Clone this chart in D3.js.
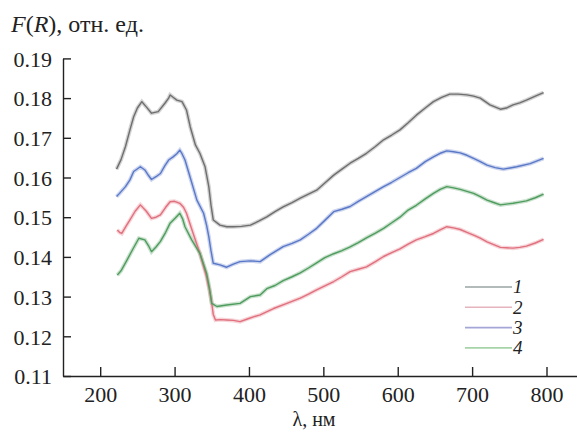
<!DOCTYPE html>
<html>
<head>
<meta charset="utf-8">
<script src="https://cdn.jsdelivr.net/npm/d3@7"></script>
<style>
  body { margin: 0; background: #fff; }
  svg text { font-family: "Liberation Serif", "DejaVu Serif", serif; fill: #222; }
</style>
</head>
<body>
<div id="chart"></div>
<script>
// spectra: [wavelength nm, F(R)]
const curve1 = [[222,0.1621],[228,0.1645],[234,0.1678],[240,0.1720],[245,0.1753],[250,0.1775],[256,0.1791],[262,0.1778],[269,0.1762],[278,0.1766],[287,0.1787],[292,0.1800],[294,0.1808],[298,0.1802],[303,0.1795],[310,0.1791],[316,0.1770],[321,0.1728],[328,0.1682],[334,0.1661],[341,0.1627],[346,0.1577],[349,0.1530],[352,0.1493],[361,0.1480],[370,0.1476],[379,0.1476],[390,0.1477],[402,0.1480],[413,0.1490],[424,0.1501],[435,0.1514],[446,0.1526],[458,0.1537],[469,0.1548],[480,0.1558],[491,0.1568],[502,0.1586],[514,0.1606],[525,0.1621],[536,0.1636],[547,0.1648],[558,0.1661],[570,0.1678],[581,0.1695],[592,0.1707],[603,0.1720],[614,0.1738],[625,0.1757],[637,0.1775],[648,0.1791],[659,0.1802],[670,0.1810],[681,0.1810],[693,0.1808],[702,0.1805],[711,0.1800],[724,0.1783],[738,0.1772],[746,0.1775],[755,0.1783],[764,0.1788],[773,0.1795],[785,0.1805],[796,0.1814]];

const curve2 = [[223,0.1468],[226,0.1462],[229,0.1459],[234,0.1475],[240,0.1493],[247,0.1515],[254,0.1531],[262,0.1515],[269,0.1497],[275,0.1500],[281,0.1506],[288,0.1525],[294,0.1539],[300,0.1540],[307,0.1535],[312,0.1525],[316,0.1510],[325,0.1459],[334,0.1409],[343,0.1350],[347,0.1315],[350,0.1283],[352,0.1255],[355,0.1241],[362,0.1242],[370,0.1241],[379,0.1240],[388,0.1237],[397,0.1243],[406,0.1249],[415,0.1254],[433,0.1270],[451,0.1283],[469,0.1296],[480,0.1306],[491,0.1317],[502,0.1327],[514,0.1338],[525,0.1350],[536,0.1363],[547,0.1369],[558,0.1375],[570,0.1388],[581,0.1401],[592,0.1411],[603,0.1420],[614,0.1432],[625,0.1443],[637,0.1451],[648,0.1459],[657,0.1468],[666,0.1476],[675,0.1473],[684,0.1469],[693,0.1462],[702,0.1455],[711,0.1447],[720,0.1438],[729,0.1431],[738,0.1424],[746,0.1423],[755,0.1422],[764,0.1424],[773,0.1427],[785,0.1435],[796,0.1444]];

const curve3 = [[222,0.1552],[226,0.1560],[234,0.1577],[240,0.1594],[245,0.1615],[254,0.1627],[260,0.1619],[265,0.1605],[269,0.1595],[275,0.1602],[281,0.1610],[287,0.1630],[292,0.1644],[298,0.1652],[303,0.1660],[307,0.1669],[310,0.1660],[314,0.1644],[321,0.1600],[330,0.1543],[339,0.1510],[343,0.1480],[346,0.1451],[349,0.1415],[352,0.1384],[361,0.1380],[370,0.1374],[379,0.1382],[388,0.1388],[402,0.1390],[415,0.1388],[428,0.1405],[446,0.1426],[458,0.1434],[469,0.1443],[480,0.1457],[491,0.1472],[502,0.1492],[514,0.1514],[525,0.1520],[536,0.1527],[547,0.1540],[558,0.1552],[570,0.1565],[581,0.1577],[592,0.1588],[603,0.1600],[614,0.1612],[625,0.1623],[637,0.1640],[648,0.1652],[657,0.1661],[666,0.1667],[675,0.1665],[684,0.1662],[693,0.1656],[702,0.1648],[711,0.1640],[720,0.1631],[731,0.1625],[742,0.1621],[751,0.1624],[760,0.1627],[778,0.1635],[796,0.1648]];

const curve4 = [[223,0.1354],[228,0.1365],[236,0.1392],[244,0.1420],[252,0.1447],[260,0.1443],[265,0.1428],[269,0.1413],[275,0.1425],[281,0.1439],[288,0.1462],[294,0.1485],[301,0.1498],[307,0.1510],[311,0.1495],[314,0.1476],[323,0.1443],[334,0.1409],[343,0.1359],[347,0.1320],[350,0.1283],[357,0.1275],[370,0.1279],[388,0.1283],[402,0.1300],[415,0.1304],[424,0.1320],[435,0.1328],[446,0.1340],[458,0.1350],[469,0.1360],[480,0.1372],[491,0.1385],[502,0.1398],[514,0.1408],[525,0.1416],[536,0.1425],[547,0.1436],[558,0.1448],[570,0.1460],[581,0.1472],[592,0.1486],[603,0.1500],[614,0.1518],[625,0.1530],[637,0.1546],[648,0.1560],[657,0.1570],[666,0.1577],[675,0.1574],[684,0.1570],[693,0.1565],[702,0.1560],[711,0.1552],[720,0.1543],[729,0.1537],[738,0.1531],[746,0.1533],[755,0.1535],[764,0.1538],[773,0.1541],[785,0.1549],[796,0.1558]];

const seriesNames = ["1", "2", "3", "4"];
const xTicks = [200, 300, 400, 500, 600, 700, 800];
const yTicks = [0.11, 0.12, 0.13, 0.14, 0.15, 0.16, 0.17, 0.18, 0.19];

const width = 577, height = 432;
const serif = "'Liberation Serif', 'DejaVu Serif', serif";
const colors = ["#6e6e6e", "#e0707e", "#5a78c8", "#4e9c5e"];
const legendColors = ["#9aa3a3", "#e6b4bc", "#a4a6d8", "#a6d4a8"];

let svg = d3.select("#chart").append("svg")
    .attr("width", width)
    .attr("height", height);

let x = d3.scaleLinear().domain([150, 841]).range([63, 577]);
let y = d3.scaleLinear().domain([0.11, 0.19]).range([376, 58.4]);

let line = d3.line()
    .x(function(d) { return x(d[0]); })
    .y(function(d) { return y(d[1]); });

let data = [curve1, curve2, curve3, curve4];

// soft halo first, then the core line
data.forEach(function(c, i) {
    svg.append("path")
        .attr("d", line(c))
        .attr("fill", "none")
        .attr("stroke", colors[i])
        .attr("stroke-opacity", 0.3)
        .attr("stroke-width", 4);
});
data.forEach(function(c, i) {
    svg.append("path")
        .attr("d", line(c))
        .attr("fill", "none")
        .attr("stroke", colors[i])
        .attr("stroke-width", 1.4)
        .attr("stroke-linejoin", "round");
});

// axes, ticks pointing inwards
let xAxis = svg.append("g")
    .attr("transform", "translate(0,376)")
    .call(d3.axisBottom(x).tickValues(xTicks).tickSizeInner(-9).tickSizeOuter(0).tickPadding(10));

let yAxis = svg.append("g")
    .attr("transform", "translate(63,0)")
    .call(d3.axisLeft(y).tickValues(yTicks).tickFormat(d3.format(".2f")).tickSizeInner(-8).tickSizeOuter(0).tickPadding(11));

[xAxis, yAxis].forEach(function(a) {
    a.attr("font-family", null);
    a.selectAll("path, line").attr("stroke", "#222").attr("stroke-width", 1.4);
    a.selectAll("text")
        .style("font-family", serif)
        .style("font-size", "22px")
        .attr("fill", "#222");
});
yAxis.selectAll("text").attr("dy", "0.35em");
xAxis.selectAll("text").attr("dy", "0.71em");

// titles
let title = svg.append("text")
    .attr("x", 11)
    .attr("y", 32)
    .style("font-family", serif)
    .style("font-size", "24px");
title.append("tspan").style("font-style", "italic").text("F");
title.append("tspan").text("(");
title.append("tspan").style("font-style", "italic").text("R");
title.append("tspan").text("), отн. ед.");

svg.append("text")
    .attr("x", 314)
    .attr("y", 426)
    .attr("text-anchor", "middle")
    .style("font-family", serif)
    .style("font-size", "20px")
    .text("λ, нм");

// legend
let legend = svg.append("g");
seriesNames.forEach(function(name, i) {
    let ly = 287 + i * 20.3;
    legend.append("line")
        .attr("x1", 465).attr("x2", 512)
        .attr("y1", ly).attr("y2", ly)
        .attr("stroke", legendColors[i])
        .attr("stroke-width", 1.6);
    legend.append("text")
        .attr("x", 513)
        .attr("y", ly)
        .attr("dy", "0.33em")
        .style("font-family", serif)
        .style("font-size", "19px")
        .style("font-style", "italic")
        .text(name);
});
</script>
</body>
</html>
